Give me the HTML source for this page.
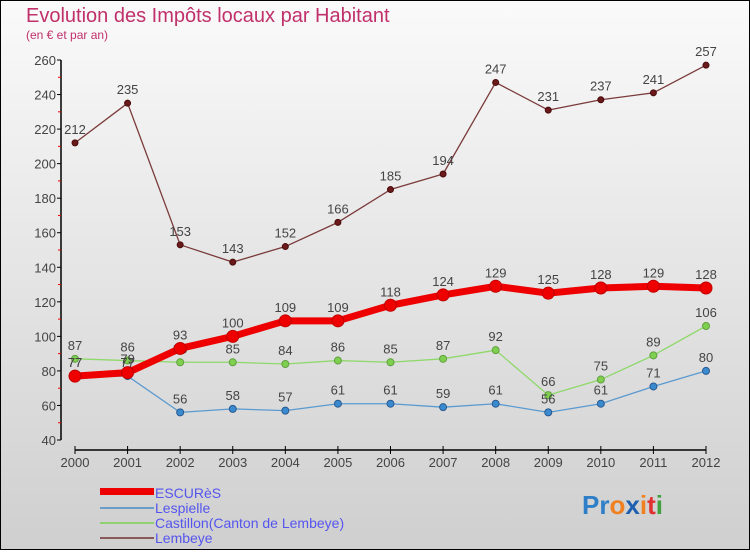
<!DOCTYPE html>
<html><head><meta charset="utf-8"><style>
body{margin:0}
#c{width:750px;height:550px;position:relative;font-family:"Liberation Sans",sans-serif;}
</style></head><body>
<div id="c">
<svg id="s" width="750" height="550" xmlns="http://www.w3.org/2000/svg">
<defs><linearGradient id="bg" x1="0" y1="0" x2="0" y2="1"><stop offset="0" stop-color="#fafafa"/><stop offset="1" stop-color="#cfcfcf"/></linearGradient></defs>
<rect x="0.5" y="0.5" width="749" height="549" fill="url(#bg)" stroke="#000"/>
<text x="26" y="22" font-size="20" fill="#c0306a">Evolution des Impôts locaux par Habitant</text>
<text x="26" y="39" font-size="12" fill="#c0306a">(en € et par an)</text>
<g id="axes"></g><g id="series"></g>
<g>
<rect x="100" y="488" width="54" height="7" fill="#ee0000"/>
<text x="155" y="498" font-size="14" fill="#5555ee">ESCURèS</text>
<rect x="100" y="507" width="54" height="2" fill="#6a9ec8"/>
<text x="155" y="513" font-size="14" fill="#5555ee">Lespielle</text>
<rect x="100" y="522" width="54" height="2" fill="#8fd070"/>
<text x="155" y="528" font-size="14" fill="#5555ee">Castillon(Canton de Lembeye)</text>
<rect x="100" y="537" width="54" height="2" fill="#8a5a5a"/>
<text x="155" y="543" font-size="14" fill="#5555ee">Lembeye</text>
</g>
<text x="582" y="514" font-size="26" font-weight="bold"><tspan fill="#2f7fc8">Pr</tspan><tspan fill="#f08020">o</tspan><tspan fill="#1f5fb0">x</tspan><tspan fill="#f08020">i</tspan><tspan fill="#e03030">t</tspan><tspan fill="#40a040">i</tspan></text>
</svg></div>
<script>
const years=[2000,2001,2002,2003,2004,2005,2006,2007,2008,2009,2010,2011,2012];
const yTicks=[40,60,80,100,120,140,160,180,200,220,240,260];
const escures=[77,79,93,100,109,109,118,124,129,125,128,129,128];
const lespielle=[77,77,56,58,57,61,61,59,61,56,61,71,80];
const castillon=[87,86,85,85,84,86,85,87,92,66,75,89,106];
const lembeye=[212,235,153,143,152,166,185,194,247,231,237,241,257];
const NS="http://www.w3.org/2000/svg";
function xS(i){return 75+i*(706-75)/(years.length-1);}
function yS(v){return 440-(v-40)*(380/220);}
function mk(t,a,p){const e=document.createElementNS(NS,t);for(const k in a)e.setAttribute(k,a[k]);p.appendChild(e);return e;}
const ax=document.getElementById('axes');
let yl=mk('line',{x1:61,y1:60,x2:61,y2:440,stroke:'#000','stroke-width':1.5},ax);


yTicks.forEach((v,i)=>{
 mk('line',{x1:57,y1:yS(v),x2:61,y2:yS(v),stroke:'#000'},ax);
 if(i<yTicks.length-1)mk('line',{x1:58,y1:yS(v+10),x2:61,y2:yS(v+10),stroke:'#e00'},ax);
 const t=mk('text',{x:56,y:yS(v)+5,'font-size':13,fill:'#444','text-anchor':'end'},ax);
 t.textContent=v;
 
 
});
let xl=mk('line',{x1:75,y1:450,x2:706,y2:450,stroke:'#000','stroke-width':1.5},ax);


years.forEach((y,i)=>{
 mk('line',{x1:xS(i),y1:446,x2:xS(i),y2:454,stroke:'#000'},ax);
 const t=mk('text',{x:xS(i),y:467,'font-size':13,fill:'#444','text-anchor':'middle'},ax);
 t.textContent=y;
 
 
});
const sg=document.getElementById('series');
function draw(vals,name,color,w,r,fill,stroke){
 const g=mk('g',{},sg);
 
 
 const l=mk('polyline',{points:vals.map((v,i)=>xS(i)+','+yS(v)).join(' '),fill:'none',stroke:color,'stroke-width':w,'stroke-linejoin':'round'},g);
 
 
 vals.forEach((v,i)=>{
  const c=mk('circle',{cx:xS(i),cy:yS(v),r:r,fill:fill,stroke:stroke,'stroke-width':1},g);
  
  
  const t=mk('text',{x:xS(i),y:yS(v)-9,'font-size':13,fill:'#444','text-anchor':'middle'},g);
  t.textContent=v;
  
  
 });
}
draw(lembeye,'lembeye','#7a3a3a',1.3,3,'#6a1a1a','#4a0a0a');
draw(castillon,'castillon','#8fd86a',1.3,3.5,'#80d050','#60a040');
draw(lespielle,'lespielle','#5a9ad0',1.3,3.5,'#3a8ad0','#2a5a90');
draw(escures,'escures','#ee0000',7,6,'#ee0000','#c00000');
</script>
</body></html>
